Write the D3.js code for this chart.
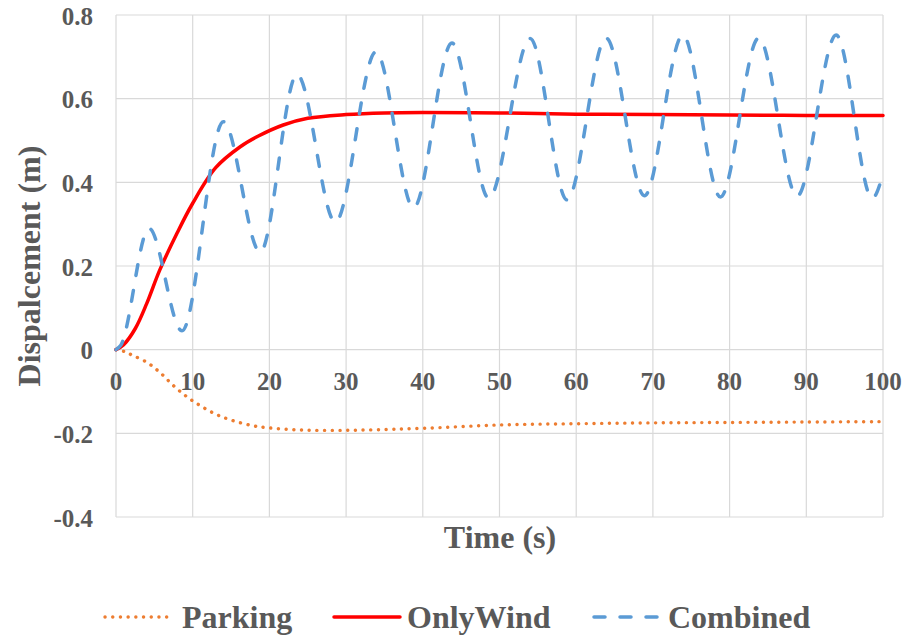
<!DOCTYPE html>
<html>
<head>
<meta charset="utf-8">
<script src="https://cdn.jsdelivr.net/npm/d3@7"></script>
<style>
  body { margin: 0; background: #fff; }
  text { font-family: "Liberation Serif", "Times New Roman", serif; font-weight: bold; fill: #595959; }
</style>
</head>
<body>
<div id="chart"></div>
<script>
// values
const xTicks = [0, 10, 20, 30, 40, 50, 60, 70, 80, 90, 100];
const yTicks = [-0.4, -0.2, 0, 0.2, 0.4, 0.6, 0.8];
const yTickLabels = ['-0.4', '-0.2', '0', '0.2', '0.4', '0.6', '0.8'];

const parkingT = [0, 1, 2.2, 4, 5.7, 7.5, 9.2, 11, 13.1, 15.3, 17.9, 20, 24, 28.3, 32.7, 40, 50, 60, 70, 80, 90, 100];
const parkingV = [0, -0.004, -0.014, -0.03, -0.054, -0.086, -0.112, -0.134, -0.155, -0.170, -0.182, -0.187, -0.192, -0.193, -0.192, -0.188, -0.180, -0.177, -0.175, -0.174, -0.173, -0.172];

const windT = [0, 1, 2.5, 4, 5.7, 8, 10, 13, 16.2, 18.5, 21.8, 25, 30, 35, 40, 50, 60, 70, 80, 90, 100];
const windV = [0, 0.012, 0.05, 0.11, 0.19, 0.28, 0.35, 0.435, 0.485, 0.51, 0.537, 0.553, 0.562, 0.566, 0.567, 0.566, 0.563, 0.562, 0.561, 0.560, 0.560];

const combT = [0, 0.6, 4.3, 8.6, 14.0, 18.8, 23.6, 28.6, 33.9, 38.8, 43.8, 48.6, 54.0, 58.8, 63.9, 68.9, 73.9, 78.8, 83.8, 88.8, 93.9, 98.6, 100];
const combV = [0, 0.01, 0.29, 0.045, 0.545, 0.233, 0.658, 0.305, 0.712, 0.339, 0.733, 0.362, 0.744, 0.358, 0.745, 0.368, 0.752, 0.365, 0.745, 0.367, 0.752, 0.362, 0.42];

const seriesNames = ['Parking', 'OnlyWind', 'Combined'];
const colors = ['#ED7D31', '#FF0000', '#5B9BD5'];

const W = 909, H = 636;
const mLeft = 116, mRight = 883, mTop = 15, mBottom = 517;

const svg = d3.select('#chart').append('svg')
    .attr('width', W).attr('height', H);

const x = d3.scaleLinear().domain([0, 100]).range([mLeft, mRight]);
const y = d3.scaleLinear().domain([-0.4, 0.8]).range([mBottom, mTop]);

// grid
svg.append('g').selectAll('line')
    .data(xTicks)
    .join('line')
    .attr('x1', d => x(d)).attr('x2', d => x(d))
    .attr('y1', mTop).attr('y2', mBottom)
    .attr('stroke', '#d9d9d9').attr('stroke-width', 1.2);
svg.append('g').selectAll('line')
    .data(yTicks)
    .join('line')
    .attr('x1', mLeft).attr('x2', mRight)
    .attr('y1', d => y(d)).attr('y2', d => y(d))
    .attr('stroke', '#d9d9d9').attr('stroke-width', 1.2);

// tick labels
svg.append('g').selectAll('text')
    .data(yTicks)
    .join('text')
    .attr('x', 93)
    .attr('y', d => y(d))
    .attr('dy', '0.38em')
    .attr('text-anchor', 'end')
    .attr('font-size', 25)
    .text((d, i) => yTickLabels[i]);
svg.append('g').selectAll('text')
    .data(xTicks)
    .join('text')
    .attr('x', d => x(d))
    .attr('y', 390)
    .attr('text-anchor', 'middle')
    .attr('font-size', 25)
    .text(d => d);

// axis titles
svg.append('text')
    .attr('x', 500).attr('y', 548)
    .attr('text-anchor', 'middle')
    .attr('font-size', 32)
    .text('Time (s)');
svg.append('text')
    .attr('transform', 'translate(40, 266) rotate(-90)')
    .attr('text-anchor', 'middle')
    .attr('font-size', 32)
    .text('Dispalcement (m)');

// series
const smooth = d3.line()
    .x(d => x(d[0]))
    .y(d => y(d[1]))
    .curve(d3.curveCatmullRom.alpha(0.5));
const wave = d3.line()
    .x(d => x(d[0]))
    .y(d => y(d[1]))
    .curve(d3.curveMonotoneX);

const series = [
  d3.zip(parkingT, parkingV),
  d3.zip(windT, windV),
  d3.zip(combT, combV)
];
const lineGens = [smooth, smooth, wave];
const widths = [3.4, 3.5, 3.5];
const dashes = ['0.1,7.6', null, '11,15'];

svg.append('g').selectAll('path')
    .data(series)
    .join('path')
    .attr('d', (d, i) => lineGens[i](d))
    .attr('fill', 'none')
    .attr('stroke', (d, i) => colors[i])
    .attr('stroke-width', (d, i) => widths[i])
    .attr('stroke-dasharray', (d, i) => dashes[i])
    .attr('stroke-linecap', 'round')
    .attr('stroke-linejoin', 'round');

// legend
const legX1 = [105, 334, 594];
const legX2 = [167, 400, 658];
const legTextX = [182, 407, 668];
const legY = 617;
const leg = svg.append('g');
leg.selectAll('line')
    .data(seriesNames)
    .join('line')
    .attr('x1', (d, i) => legX1[i])
    .attr('x2', (d, i) => legX2[i])
    .attr('y1', legY).attr('y2', legY)
    .attr('stroke', (d, i) => colors[i])
    .attr('stroke-width', (d, i) => widths[i])
    .attr('stroke-dasharray', (d, i) => dashes[i])
    .attr('stroke-linecap', 'round');
leg.selectAll('text')
    .data(seriesNames)
    .join('text')
    .attr('x', (d, i) => legTextX[i])
    .attr('y', legY + 11)
    .attr('font-size', 32)
    .text(d => d);
</script>
</body>
</html>
